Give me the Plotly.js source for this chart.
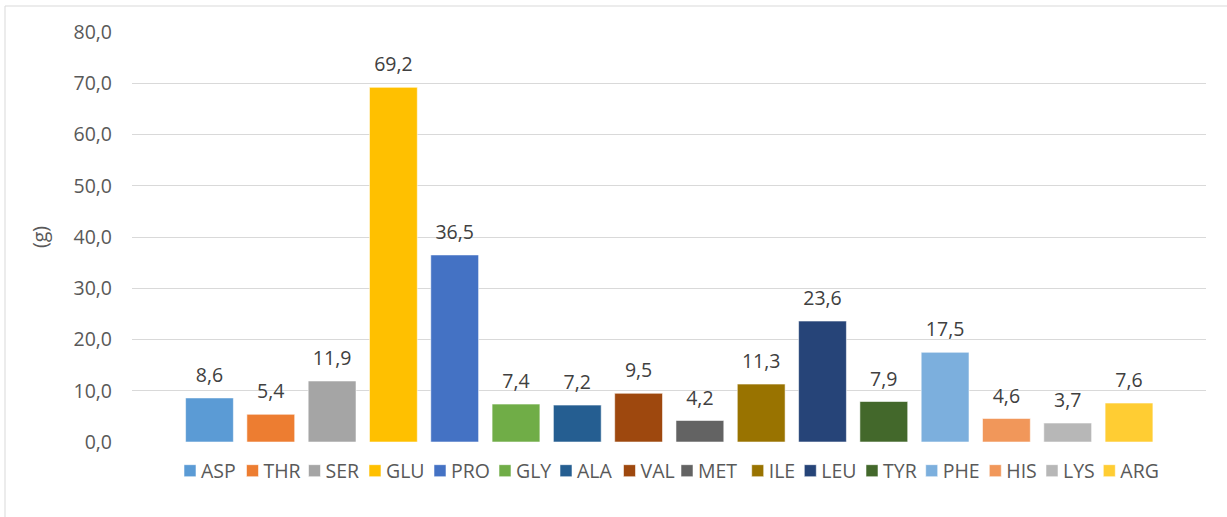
<!DOCTYPE html>
<html>
<head>
<meta charset="utf-8">
<script src="https://cdn.plot.ly/plotly-3.0.1.min.js"></script>
<style>
html,body{margin:0;padding:0;background:#fff;}
#chart{width:1227px;height:517px;}
</style>
</head>
<body>
<div id="chart"></div>
<script>
const categories = ['ASP','THR','SER','GLU','PRO','GLY','ALA','VAL','MET','ILE','LEU','TYR','PHE','HIS','LYS','ARG'];
const values = [8.6, 5.4, 11.9, 69.2, 36.5, 7.4, 7.2, 9.5, 4.2, 11.3, 23.6, 7.9, 17.5, 4.6, 3.7, 7.6];
const colors = ['#5B9BD5','#ED7D31','#A5A5A5','#FFC000','#4472C4','#70AD47','#255E91','#9E480E',
                '#636363','#997300','#264478','#43682B','#7CAFDD','#F1975A','#B7B7B7','#FFCD33'];
const yTitle = '(g)';

// legend entry left positions in px (layout only)
const legendLeft = [184, 246.5, 308.5, 369, 434, 499, 560, 623.5, 681, 751.7, 804.3, 866, 925.7, 989.3, 1046, 1103.3];

const W = 1227, H = 517;
const FONT = 'Open Sans, Noto Sans, sans-serif';
const FS = 19.5;

const traces = [];
const layout = {
  width: W, height: H,
  margin: {l: 132, r: 21, t: 32, b: 75, pad: 0},
  paper_bgcolor: '#ffffff', plot_bgcolor: '#ffffff',
  font: {family: FONT, size: FS, color: '#595959'},
  separators: ', ',
  barmode: 'overlay',
  bargap: 0.22,
  showlegend: true,
  xaxis: {
    type: 'category',
    categoryorder: 'array', categoryarray: categories,
    range: [-1.264, 16.256],
    showticklabels: false, showgrid: false, zeroline: false, showline: false, ticks: ''
  },
  yaxis: {
    range: [0, 80], dtick: 10, tick0: 0, tickformat: '.1f',
    showgrid: true, gridcolor: '#D9D9D9', gridwidth: 1,
    zeroline: false, showline: false, ticks: '',
    ticklabelstandoff: 19,
    tickfont: {family: FONT, size: FS, color: '#595959'},
    title: {text: yTitle, font: {family: FONT, size: FS, color: '#595959'}, standoff: 20}
  },
  shapes: [{
    type: 'rect', xref: 'paper', yref: 'paper', layer: 'below',
    x0: (5 - 132) / 1074, x1: 1.2, y0: -0.5, y1: (442 - 6) / 410,
    line: {color: '#D9D9D9', width: 1}, fillcolor: 'rgba(0,0,0,0)'
  }]
};

categories.forEach((c, i) => {
  const lg = i === 0 ? 'legend' : 'legend' + (i + 1);
  traces.push({
    type: 'bar',
    x: [c], y: [values[i]], name: c,
    legend: lg,
    marker: {color: colors[i], line: {color: 'rgba(255,255,255,0.55)', width: 1}},
    hoverinfo: 'x+y'
  });
  layout[lg] = {
    xref: 'container', yref: 'container',
    x: (legendLeft[i] - 14) / W, xanchor: 'left',
    y: 1 - 471 / H, yanchor: 'middle',
    orientation: 'h',
    bgcolor: 'rgba(0,0,0,0)', borderwidth: 0,
    itemwidth: 30,
    font: {family: FONT, size: FS, color: '#595959'}
  };
});

traces.push({
  type: 'scatter',
  mode: 'markers+text',
  x: categories, y: values,
  texttemplate: '%{y:.1f}',
  textposition: 'top center',
  textfont: {family: FONT, size: FS, color: '#404040'},
  marker: {size: 16, opacity: 0},
  showlegend: false, hoverinfo: 'skip',
  cliponaxis: false
});

// pull legend labels closer to their colour squares, as in the reference
function tightenLegend() {
  document.querySelectorAll('#chart text').forEach(function (t) {
    if (categories.indexOf((t.textContent || '').trim()) < 0) return;
    if (t.getAttribute('data-shifted')) return;
    const tr = t.getAttribute('transform') || '';
    t.setAttribute('transform', 'translate(-9,0) ' + tr);
    t.setAttribute('data-shifted', '1');
  });
}

Plotly.newPlot('chart', traces, layout, {displayModeBar: false, staticPlot: true}).then(function () {
  tightenLegend();
  [50, 200, 500].forEach(function (ms) { setTimeout(tightenLegend, ms); });
});
</script>
</body>
</html>
